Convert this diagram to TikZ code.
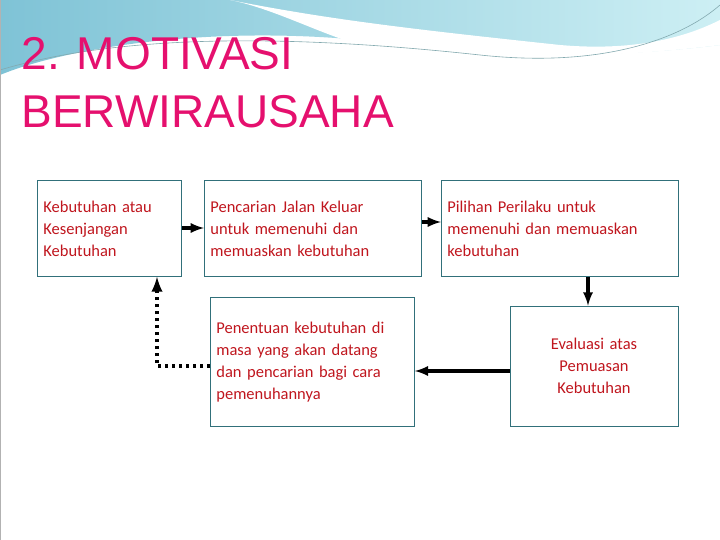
\documentclass[tikz,border=0pt]{standalone}
\usepackage{fontspec}
\setmainfont{Carlito}
\newfontfamily\titlefont{Liberation Sans}
\definecolor{boxline}{HTML}{31707A}
\definecolor{txtred}{HTML}{C0161E}
\definecolor{titlepink}{HTML}{E5106E}
\definecolor{wavedark}{HTML}{7FC3D6}
\definecolor{wavelight}{HTML}{CDEFF4}
\tikzset{
  stepbox/.style={draw=boxline, line width=0.8pt, anchor=north west, align=left,
    text=txtred, font=\fontsize{16.5}{22}\selectfont, inner xsep=6pt, inner ysep=4pt},
  flow/.style={-latex, line width=3.5pt},
}
\begin{document}
\begin{tikzpicture}[x=1pt, y=-1pt]
  \useasboundingbox (0,0) rectangle (720,540);
  \fill[white] (0,0) rectangle (720,540);
  % top wave
  \shade[left color=wavedark, right color=wavelight] (0,0) -- (720,0) -- (720,45)
    .. controls (600,60) and (480,55) .. (360,40) .. controls (200,25) and (60,50) .. (0,75) -- cycle;
  \fill[white] (230,0) .. controls (330,20) and (420,30) .. (560,45) .. controls (640,52) and (690,35) .. (720,20)
    -- (720,45) .. controls (600,60) and (480,58) .. (380,50) .. controls (330,40) and (280,10) .. (230,0) -- cycle;
  \draw[boxline!60, line width=0.6pt] (0,70) .. controls (100,40) and (250,30) .. (480,55) .. controls (600,68) and (680,40) .. (720,5);
  \draw[gray!60, line width=1pt] (0,0) rectangle (720,540);
  % title
  \node[anchor=base west, text=titlepink, font=\titlefont\fontsize{46}{50}\selectfont] (title1) at (18,70) {2. MOTIVASI};
  \node[anchor=base west, text=titlepink, font=\titlefont\fontsize{46}{50}\selectfont] (title2) at (18,128) {BERWIRAUSAHA};
  % boxes
  \node[stepbox, text width=132pt, minimum width=144pt, minimum height=96pt] (need) at (37,180) {Kebutuhan atau\\Kesenjangan\\Kebutuhan};
  \node[stepbox, text width=205pt, minimum width=217pt, minimum height=96pt] (search) at (204,180) {Pencarian Jalan Keluar\\untuk memenuhi dan\\memuaskan kebutuhan};
  \node[stepbox, text width=225pt, minimum width=237pt, minimum height=96pt] (choice) at (441,180) {Pilihan Perilaku untuk\\memenuhi dan memuaskan\\kebutuhan};
  \node[stepbox, text width=192pt, minimum width=204pt, minimum height=129pt, inner ysep=8pt] (future) at (210,297) {Penentuan kebutuhan di\\masa yang akan datang\\dan pencarian bagi cara\\pemenuhannya};
  \node[stepbox, anchor=center, align=center, text width=156pt, minimum width=168pt, minimum height=120pt] (eval) at (594,366) {Evaluasi atas\\Pemuasan\\Kebutuhan};
  % connectors
  \draw[flow] (need.east |- 0,228) -- (search.west |- 0,228);
  \draw[flow] (search.east |- 0,222) -- (choice.west |- 0,222);
  \draw[flow] (choice.south -| 588,0) -- (eval.north -| 588,0);
  \draw[flow] (eval.west |- 0,371) -- (future.east |- 0,371);
  \draw[-latex, line width=4pt, dash pattern=on 3.5pt off 3.5pt] (future.west |- 0,366) -- (157,366) -- (need.south -| 157,0);
\end{tikzpicture}
\end{document}
